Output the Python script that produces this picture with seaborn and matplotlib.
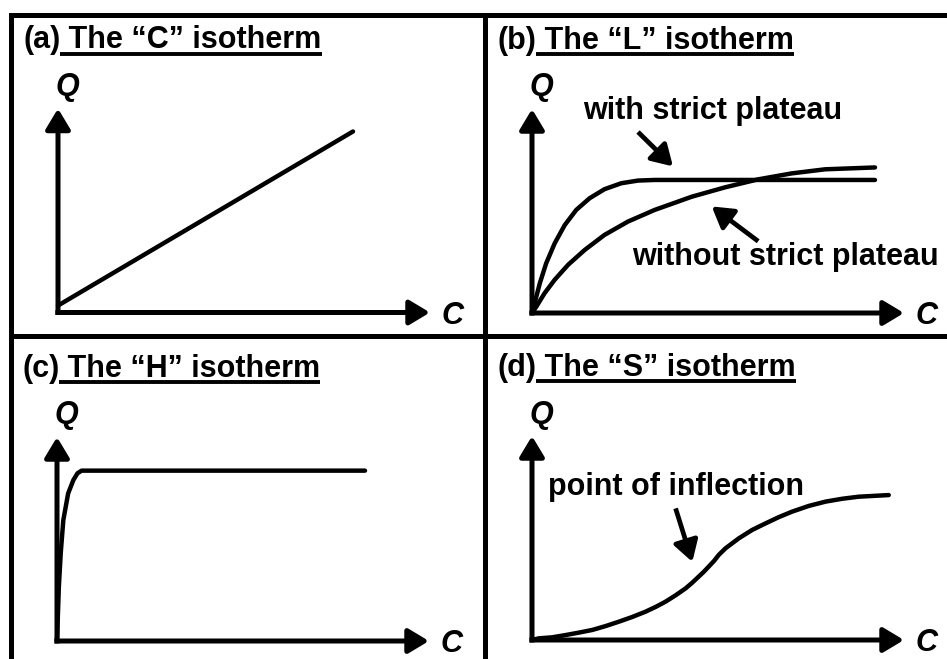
import numpy as np
import pandas as pd
import matplotlib.pyplot as plt
import seaborn as sns

sns.set_style("white")
plt.rcParams["font.family"] = ["Liberation Sans", "DejaVu Sans"]
plt.rcParams["text.color"] = "black"

# ---- data (C, Q in arbitrary units, axis arrows end at 10) ----
c_linear = [0.0, 7.93]
q_linear = [0.34, 8.83]

c_l_strict = [0.0, 0.07, 0.21, 0.38, 0.61, 0.88, 1.19, 1.55, 1.95, 2.40, 2.85, 3.30, 9.22]
q_l_strict = [0.0, 0.47, 1.45, 2.42, 3.40, 4.29, 5.03, 5.60, 6.04, 6.33, 6.46, 6.49, 6.49]

c_l_free = [0.0, 0.12, 0.34, 0.61, 0.97, 1.42, 1.95, 2.58, 3.30, 3.92, 4.29, 5.19,
            6.08, 6.98, 7.88, 9.22]
q_l_free = [0.0, 0.32, 0.97, 1.62, 2.35, 3.08, 3.81, 4.46, 5.03, 5.43, 5.67, 6.13,
            6.52, 6.81, 7.01, 7.10]

c_high = [0.0, 0.05, 0.10, 0.17, 0.30, 0.44, 0.55, 0.66, 8.28]
q_high = [0.0, 2.65, 4.28, 5.90, 7.20, 7.85, 8.18, 8.31, 8.31]

c_sig = [0.0, 0.18, 0.54, 0.90, 1.26, 1.62, 1.98, 2.33, 2.69, 3.05, 3.32, 3.59, 3.86,
         4.13, 4.31, 4.48, 4.62, 4.75, 4.89, 5.02, 5.20, 5.56, 5.92, 6.28, 6.63, 6.99,
         7.44, 7.89, 8.34, 8.78, 9.59]
q_sig = [0.0, 0.08, 0.13, 0.24, 0.36, 0.49, 0.68, 0.89, 1.12, 1.38, 1.61, 1.87, 2.18,
         2.52, 2.80, 3.09, 3.33, 3.58, 3.85, 4.15, 4.47, 4.96, 5.37, 5.69, 5.99, 6.26,
         6.54, 6.75, 6.89, 6.99, 7.07]

titles = ["(a)", "(b)", "(c)", "(d)"]
names = [" The \u201cC\u201d isotherm", " The \u201cL\u201d isotherm",
         " The \u201cH\u201d isotherm", " The \u201cS\u201d isotherm"]

# ---- layout (pixels) ----
W, H = 947, 659
PX_C, PX_Q = 37.2, 20.5
FS = 22.0
fig = plt.figure(figsize=(W / 100, H / 100), dpi=100)


def make_panel(x0, y0, x1, y1, ox, oy):
    ax = fig.add_axes([x0 / W, 1 - y1 / H, (x1 - x0) / W, (y1 - y0) / H])
    ax.set_xlim((x0 - ox) / PX_C, (x1 - ox) / PX_C)
    ax.set_ylim((oy - y1) / PX_Q, (oy - y0) / PX_Q)
    ax.set_xticks([])
    ax.set_yticks([])
    for s in ax.spines.values():
        s.set_linewidth(3.6)
        s.set_color("black")
    # axis arrows
    kw = dict(arrowstyle="-|>,head_length=1.0,head_width=0.6", lw=3.6, color="black",
              shrinkA=0, shrinkB=0, mutation_scale=12.5, capstyle="butt")
    ax.annotate("", xy=(10, 0), xytext=(-0.07, 0), arrowprops=kw)
    ax.annotate("", xy=(0, 9.95), xytext=(0, -0.12), arrowprops=kw)
    ax.text(0.25, 11.0, "Q", fontsize=FS, fontweight="bold", style="italic",
            ha="center", va="center")
    ax.text(10.6, -0.15, "C", fontsize=FS, fontweight="bold", style="italic",
            ha="center", va="center")
    return ax


axes = [
    make_panel(10.5, 15, 484.5, 335.5, 58, 312.5),
    make_panel(484.5, 15, 958.5, 335.5, 532, 313),
    make_panel(10.5, 335.5, 484.5, 665, 57, 641),
    make_panel(484.5, 335.5, 958.5, 665, 532, 640),
]
axes[1].spines["right"].set_visible(False)
axes[2].spines["bottom"].set_visible(False)
axes[3].spines["bottom"].set_visible(False)

line_kw = dict(color="black", linewidth=3.2, solid_joinstyle="round", legend=False)
sns.lineplot(x=c_linear, y=q_linear, ax=axes[0], **line_kw)
sns.lineplot(x=c_l_strict, y=q_l_strict, ax=axes[1], **line_kw)
sns.lineplot(x=c_l_free, y=q_l_free, ax=axes[1], **line_kw)
sns.lineplot(x=c_high, y=q_high, ax=axes[2], **line_kw)
sns.lineplot(x=c_sig, y=q_sig, ax=axes[3], **line_kw)

# annotations
ann_kw = dict(arrowstyle="-|>,head_length=1.0,head_width=0.6", lw=3.4, color="black",
              shrinkA=0, shrinkB=0, mutation_scale=12.5, capstyle="butt")
axes[1].text(1.37, 9.45, "with strict plateau", fontsize=FS, fontweight="bold",
             ha="left", va="baseline")
axes[1].annotate("", xy=(3.79, 7.15), xytext=(2.85, 8.83), arrowprops=ann_kw)
axes[1].text(2.69, 2.34, "without strict plateau", fontsize=FS, fontweight="bold",
             ha="left", va="baseline")
axes[1].annotate("", xy=(4.83, 5.2), xytext=(6.08, 3.5), arrowprops=ann_kw)
axes[3].text(0.42, 7.07, "point of inflection", fontsize=FS, fontweight="bold",
             ha="left", va="baseline")
axes[3].annotate("", xy=(4.31, 3.81), xytext=(3.86, 6.42), arrowprops=ann_kw)

# titles with underlined second part
renderer = fig.canvas.get_renderer()
for ax, tag, name in zip(axes, titles, names):
    base = 12.9
    t1 = ax.text(-0.94, base, tag, fontsize=FS, fontweight="bold",
                 ha="left", va="baseline")
    ext = t1.get_window_extent(renderer)
    x_end = ax.transData.inverted().transform((ext.x1, 0))[0]
    t2 = ax.text(x_end, base, name, fontsize=FS, fontweight="bold",
                 ha="left", va="baseline")
    ext2 = t2.get_window_extent(renderer)
    xa = ax.transData.inverted().transform((ext2.x0, 0))[0]
    xb = ax.transData.inverted().transform((ext2.x1, 0))[0]
    ax.plot([xa, xb], [base - 0.27, base - 0.27], color="black", lw=2.8,
            solid_capstyle="butt", clip_on=False)

fig.savefig("out.png", dpi=100)
